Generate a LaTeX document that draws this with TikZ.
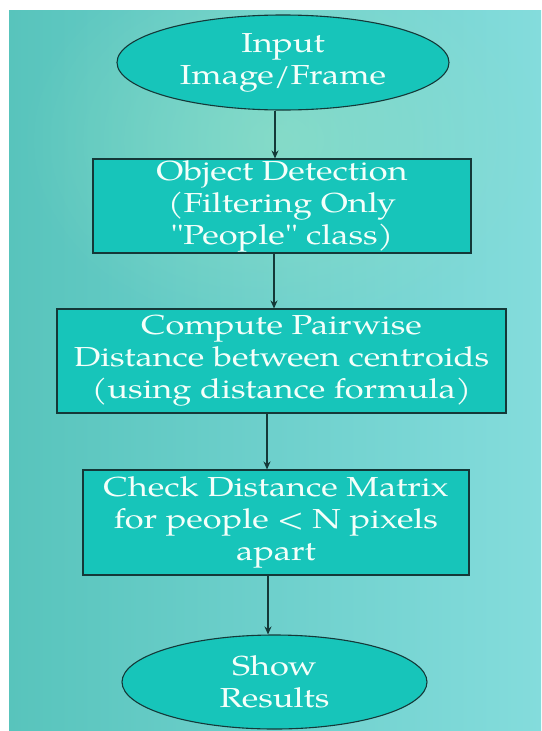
\documentclass[tikz,border=0pt]{standalone}
\usepackage{fontspec}
\setmainfont{texgyrepagella-regular.otf}[FakeStretch=1.25, Ligatures=TeXOff]
\usetikzlibrary{shapes.geometric,arrows.meta,fadings}
\tikzfading[name=softglow, inner color=transparent!0, outer color=transparent!100]
\definecolor{bgL}{HTML}{58C4BC}
\definecolor{bgR}{HTML}{84DCDC}
\definecolor{bgG}{HTML}{94E2C6}
\definecolor{nodefill}{HTML}{17C5BA}
\definecolor{edge}{HTML}{143838}
\definecolor{txt}{HTML}{F4FFFA}
\begin{document}
\begin{tikzpicture}[x=1pt,y=-1pt,
  lbl/.style={text=txt, align=center, font=\fontsize{27.5}{32}\selectfont, inner sep=0pt},
  flowbox/.style={lbl, rectangle, draw=edge, line width=1.1pt, fill=nodefill},
  term/.style={lbl, ellipse, draw=edge, line width=1.1pt, fill=nodefill},
  arr/.style={draw=edge, line width=1.1pt, -{Stealth[length=8pt,width=7pt]}}]
\useasboundingbox (0,0) rectangle (541,731);
\fill[white] (0,0) rectangle (541,731);
\shade[left color=bgL, right color=bgR] (9,10) rectangle (541,731);
\begin{scope}
\clip (9,10) rectangle (541,731);
\fill[bgG, opacity=0.6, path fading=softglow] (280,140) ellipse [x radius=260pt, y radius=200pt];
\end{scope}
\node[term, minimum width=332pt, minimum height=95pt] (e1) at (283,62.5) {Input\\Image/Frame};
\node[flowbox, minimum width=378pt, minimum height=94pt] (b1) at (282,206) {Object Detection\\(Filtering Only\\"People" class)};
\node[flowbox, minimum width=449pt, minimum height=104pt] (b2) at (281.5,361) {Compute Pairwise\\Distance between centroids\\(using distance formula)};
\node[flowbox, minimum width=386pt, minimum height=105pt] (b3) at (276,522.5) {Check Distance Matrix\\for people < N pixels\\apart};
\node[term, minimum width=305pt, minimum height=94pt] (e2) at (274.5,682) {Show\\Results};
\coordinate (c1) at (275,0);
\coordinate (c2) at (274,0);
\coordinate (c3) at (267,0);
\coordinate (c4) at (268,0);
\draw[arr] (e1.south -| c1) -- (b1.north -| c1);
\draw[arr] (b1.south -| c2) -- (b2.north -| c2);
\draw[arr] (b2.south -| c3) -- (b3.north -| c3);
\draw[arr] (b3.south -| c4) -- (e2.north -| c4);
\end{tikzpicture}
\end{document}
